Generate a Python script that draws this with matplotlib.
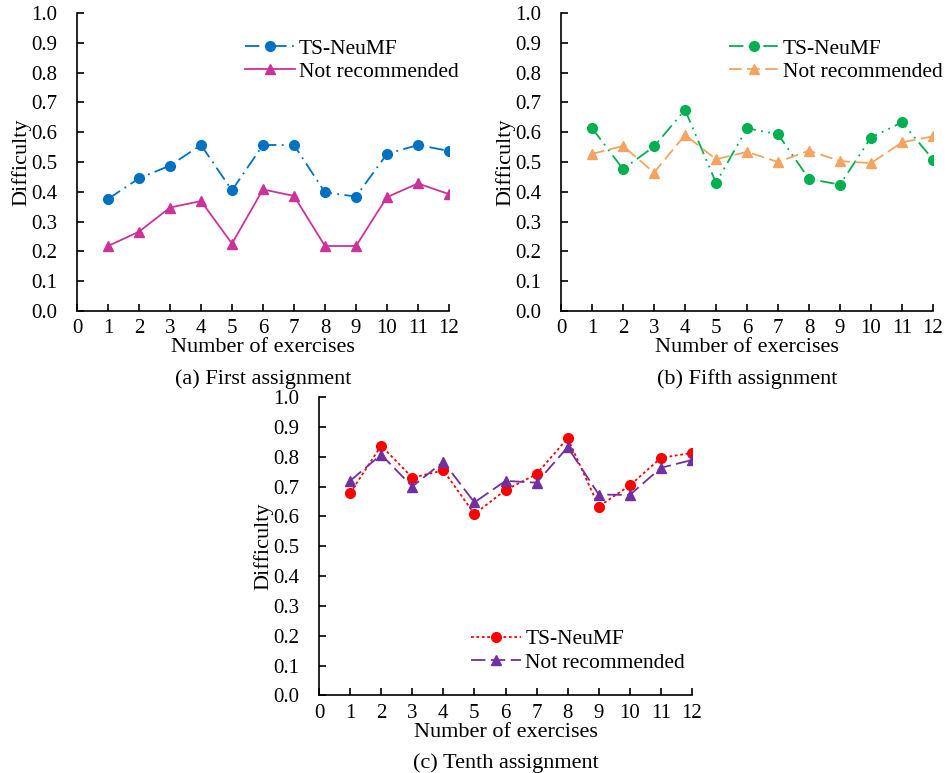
import matplotlib
matplotlib.use('Agg')
import matplotlib.pyplot as plt

plt.rcParams['font.family'] = ['Liberation Serif', 'DejaVu Serif']
plt.rcParams['font.size'] = 15

exercises = [1, 2, 3, 4, 5, 6, 7, 8, 9, 10, 11, 12]

# (a) first assignment
first_ts = [0.376, 0.445, 0.488, 0.557, 0.405, 0.557, 0.557, 0.398, 0.384, 0.527, 0.557, 0.537]
first_not = [0.218, 0.266, 0.347, 0.369, 0.226, 0.408, 0.386, 0.218, 0.218, 0.382, 0.428, 0.392]

# (b) fifth assignment
fifth_ts = [0.614, 0.476, 0.552, 0.675, 0.430, 0.613, 0.593, 0.443, 0.424, 0.582, 0.633, 0.508]
fifth_not = [0.527, 0.554, 0.464, 0.591, 0.509, 0.534, 0.500, 0.538, 0.503, 0.496, 0.566, 0.586]

# (c) tenth assignment
tenth_ts = [0.678, 0.837, 0.730, 0.754, 0.608, 0.688, 0.742, 0.862, 0.633, 0.704, 0.796, 0.813]
tenth_not = [0.719, 0.807, 0.700, 0.783, 0.647, 0.719, 0.713, 0.832, 0.673, 0.672, 0.763, 0.789]

xticks = list(range(0, 13))
yticks = [0.0, 0.1, 0.2, 0.3, 0.4, 0.5, 0.6, 0.7, 0.8, 0.9, 1.0]
labels = ['TS-NeuMF', 'Not recommended']

fig = plt.figure(figsize=(9.48, 7.73), dpi=100)
ax1 = fig.add_axes([0.0812, 0.5977, 0.3924, 0.3855])
ax2 = fig.add_axes([0.5918, 0.5977, 0.3924, 0.3855])
ax3 = fig.add_axes([0.3365, 0.1003, 0.3935, 0.3861])


def style(ax, caption):
    ax.set_xlim(0, 12)
    ax.set_ylim(0, 1.0)
    ax.set_xticks(xticks)
    ax.set_yticks(yticks)
    ax.set_yticklabels(['%.1f' % v for v in yticks])
    for s in ['top', 'right']:
        ax.spines[s].set_visible(False)
    for s in ['left', 'bottom']:
        ax.spines[s].set_linewidth(1.2)
    ax.tick_params(direction='in', length=5, width=1.2, pad=6)
    ax.tick_params(axis='y', pad=14)
    ax.set_xlabel('Number of exercises', labelpad=0, fontsize=16)
    ax.set_ylabel('Difficulty', labelpad=0, fontsize=16)
    ax.text(0.5, -0.195, caption, transform=ax.transAxes, ha='center', va='top', fontsize=16)


def add_legend(ax, loc, anchor):
    ax.legend(loc=loc, bbox_to_anchor=anchor, frameon=False, borderpad=0,
              handlelength=2.3, handletextpad=0.2, labelspacing=0.15, fontsize=15.5)


ax1.plot(exercises, first_ts, color='#0070C0', linestyle=(0, (8, 3, 1, 3)), lw=1.3,
         marker='o', markersize=7, label=labels[0])
ax1.plot(exercises, first_not, color='#CC3399', linestyle='-', lw=1.3,
         marker='^', markersize=7, label=labels[1])
style(ax1, '(a) First assignment')
add_legend(ax1, 'upper right', (1.055, 0.95))

ax2.plot(exercises, fifth_ts, color='#00B050', linestyle=(0, (8, 3, 1, 3, 1, 3)), lw=1.3,
         marker='o', markersize=7, label=labels[0])
ax2.plot(exercises, fifth_not, color='#F4A460', linestyle=(0, (7, 3)), lw=1.3,
         marker='^', markersize=7, label=labels[1])
style(ax2, '(b) Fifth assignment')
add_legend(ax2, 'upper right', (1.055, 0.95))

ax3.plot(exercises, tenth_ts, color='#FF0000', linestyle=(0, (1.5, 1.5)), lw=1.3,
         marker='o', markersize=7, label=labels[0])
ax3.plot(exercises, tenth_not, color='#7030A0', linestyle=(0, (8, 3)), lw=1.3,
         marker='^', markersize=7, label=labels[1])
style(ax3, '(c) Tenth assignment')
add_legend(ax3, 'lower right', (1.01, 0.04))

plt.savefig('out.png', dpi=100)
